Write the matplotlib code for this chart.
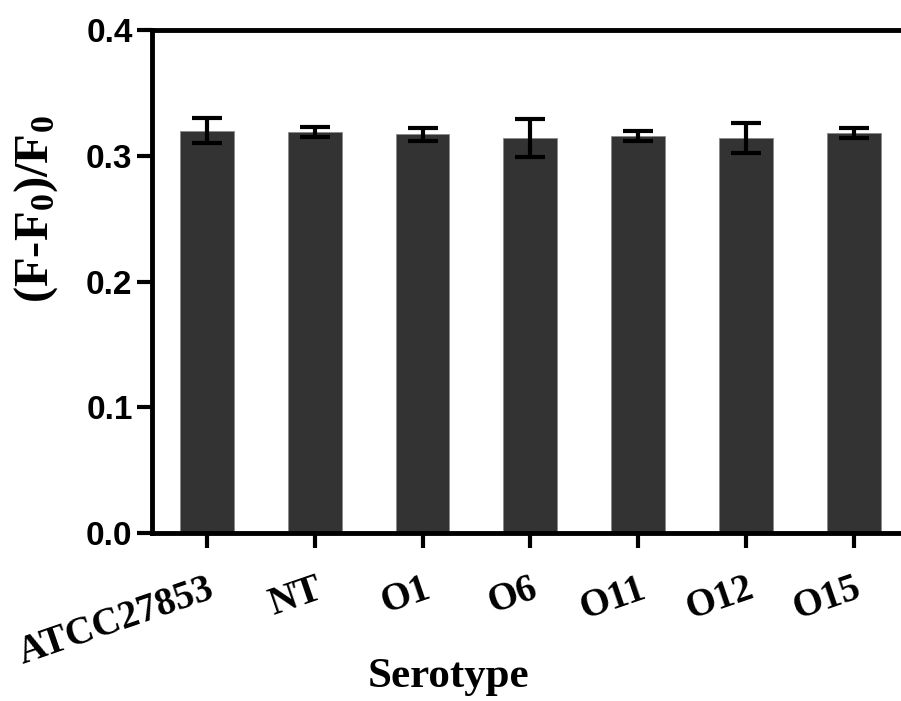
import matplotlib
matplotlib.use("Agg")
import matplotlib.pyplot as plt
import numpy as np

# data
serotypes = ["ATCC27853", "NT", "O1", "O6", "O11", "O12", "O15"]
means = [0.320, 0.319, 0.317, 0.314, 0.316, 0.314, 0.318]
errors = [0.010, 0.004, 0.005, 0.015, 0.004, 0.012, 0.004]
y_ticks = [0.0, 0.1, 0.2, 0.3, 0.4]

plt.rcParams["mathtext.fontset"] = "custom"
plt.rcParams["mathtext.rm"] = "Liberation Serif:bold"
plt.rcParams["mathtext.bf"] = "Liberation Serif:bold"
plt.rcParams["mathtext.default"] = "bf"

W, H = 901, 701
fig = plt.figure(figsize=(W / 100, H / 100), dpi=100)
ax = fig.add_axes([152 / W, 168 / H, 1 - 152 / W, (533 - 30) / H])

x = np.arange(len(serotypes))
ax.bar(x, means, width=0.5, color="#333333", edgecolor="#8a8a8a", linewidth=0.6, zorder=2)
ax.errorbar(x, means, yerr=errors, fmt="none", ecolor="black", elinewidth=3,
            capsize=11, capthick=3, zorder=3)

ax.set_xlim(-0.51, 6.44)
ax.set_ylim(0, 0.4)
ax.set_yticks(y_ticks)
ax.set_yticklabels([f"{v:.1f}" for v in y_ticks], family="Liberation Sans",
                   fontweight="bold", fontsize=24)
ax.set_xticks(x)
ax.set_xticklabels(serotypes, family="Liberation Serif", fontweight="bold",
                   fontsize=28, rotation=19, ha="right", va="top",
                   rotation_mode="anchor")

for s in ["left", "bottom", "top"]:
    ax.spines[s].set_linewidth(3.5)
ax.spines["right"].set_visible(False)
ax.tick_params(axis="both", length=11, width=3, color="black")
ax.tick_params(axis="y", pad=3)
ax.tick_params(axis="x", pad=16)

fig.text(36 / W, 1 - 209 / H, "(F-F$_0$)/F$_0$", rotation=90, ha="center", va="center",
         family="Liberation Serif", fontweight="bold", fontsize=35)
fig.text(449 / W, 1 - 677 / H, "Serotype", ha="center", va="center",
         family="Liberation Serif", fontweight="bold", fontsize=31)

fig.savefig("out.png", dpi=100)
